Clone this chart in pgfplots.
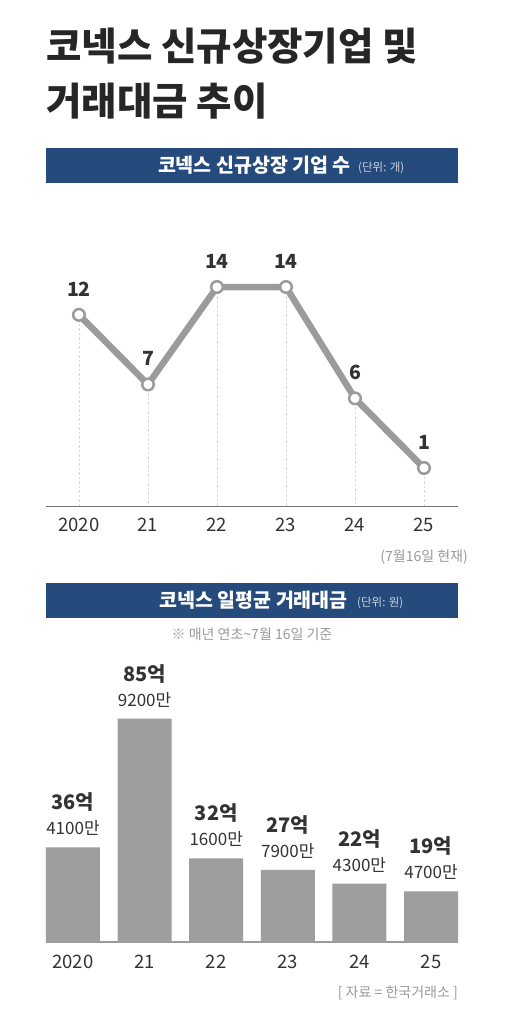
\documentclass[border=0pt]{standalone}
\usepackage{pgfplots}
\pgfplotsset{compat=1.18}
\usepackage{pgfplotstable}
\usepackage{fontspec}
\setmainfont{Noto Sans CJK KR}
\definecolor{navy}{HTML}{254A7C}
\definecolor{barg}{HTML}{9E9E9E}
\definecolor{lineg}{HTML}{9B9B9B}
\definecolor{txt}{HTML}{333333}
\definecolor{note}{HTML}{9A9A9A}
\definecolor{unit}{HTML}{C9D2E0}

\pgfplotstableread{
x y
0 12
1 7
2 14
3 14
4 6
5 1
}\linedata

\pgfplotstableread{
x y man eok
0 36.41 4100만 36억
1 85.92 9200만 85억
2 32.16 1600만 32억
3 27.79 7900만 27억
4 22.43 4300만 22억
5 19.47 4700만 19억
}\bardata

\begin{document}
\begin{tikzpicture}[x=1pt,y=1pt]
\path[use as bounding box, fill=white] (0,0) rectangle (510,-1014);

% Title
\node[anchor=west, inner sep=0pt, text=black!85, font=\fontsize{38.5}{40}\selectfont\bfseries] at (46,-46) {코넥스 신규상장기업 및};
\node[anchor=west, inner sep=0pt, text=black!85, font=\fontsize{38.5}{40}\selectfont\bfseries] at (46,-101) {거래대금 추이};

% Header 1
\fill[navy] (46,-148) rectangle (458,-183);
\node[anchor=base east, inner sep=0pt, text=white, font=\fontsize{19.5}{20}\selectfont\bfseries] at (351,-172) {코넥스 신규상장 기업 수};
\node[anchor=base west, inner sep=0pt, text=unit, font=\fontsize{11.5}{12}\selectfont] at (358,-171) {(단위: 개)};

% Line chart
\begin{axis}[
  at={(46pt,-506pt)}, anchor=south west,
  scale only axis, width=412pt, height=306pt,
  xmin=-0.478, xmax=5.493, ymin=-1.73, ymax=20.25,
  axis x line=bottom, axis y line=none,
  x axis line style={-, draw=black!55, line width=0.9pt},
  xtick={0,...,5}, xticklabels={2020,21,22,23,24,25},
  major tick length=0pt,
  xticklabel style={text=txt, font=\fontsize{18.5}{20}\selectfont, yshift=-9pt},
  ytick=\empty,
  /pgf/number format/assume math mode=true,
  clip=true,
]
\addplot[draw=none, mark=none, forget plot,
  error bars/.cd, y dir=minus, y fixed=40, error mark=none,
  error bar style={draw=black!15, line width=0.7pt, dash pattern=on 2.5pt off 2pt}]
  table[x=x,y=y] {\linedata};
\addplot[color=lineg, line width=6.5pt, line join=round,
  mark=*, mark size=5.8pt,
  mark options={fill=white, draw=lineg, line width=2.5pt, solid},
  nodes near coords,
  every node near coord/.style={anchor=center, yshift=26pt, text=txt, font=\fontsize{19.5}{20}\selectfont\bfseries},
  point meta=explicit]
  table[x=x,y=y,meta=y] {\linedata};
\end{axis}

\node[anchor=base east, inner sep=0pt, text=note, font=\fontsize{14}{15}\selectfont] at (468,-561) {(7월16일 현재)};

% Header 2
\fill[navy] (46,-583) rectangle (458,-618);
\node[anchor=base east, inner sep=0pt, text=white, font=\fontsize{19.5}{20}\selectfont\bfseries] at (348,-607) {코넥스 일평균 거래대금};
\node[anchor=base west, inner sep=0pt, text=unit, font=\fontsize{11.5}{12}\selectfont] at (357,-606) {(단위: 원)};

\node[anchor=center, inner sep=0pt, text=note, font=\fontsize{14}{15}\selectfont] at (252,-634) {※ 매년 연초\textasciitilde 7월 16일 기준};

% Bar chart
\begin{axis}[
  at={(46pt,-942pt)}, anchor=south west,
  scale only axis, width=412pt, height=302pt,
  xmin=-0.377, xmax=5.377, ymin=0, ymax=116.2,
  ybar, bar width=54pt, bar shift=0pt,
  axis x line=bottom, axis y line=none,
  x axis line style={-, draw=black!40, line width=1.5pt},
  xtick={0,...,5}, xticklabels={2020,21,22,23,24,25},
  major tick length=0pt,
  xticklabel style={text=txt, font=\fontsize{18.5}{20}\selectfont, yshift=-10pt},
  ytick=\empty,
  clip=false,
]
\addplot[fill=barg, draw=none,
  nodes near coords,
  every node near coord/.style={anchor=center, yshift=19pt, text=txt, font=\fontsize{17}{18}\selectfont},
  point meta=explicit symbolic]
  table[x=x,y=y,meta=man] {\bardata};
\addplot[fill=none, draw=none,
  nodes near coords,
  every node near coord/.style={anchor=center, yshift=45pt, text=txt, font=\fontsize{20}{22}\selectfont\bfseries},
  point meta=explicit symbolic]
  table[x=x,y=y,meta=eok] {\bardata};
\end{axis}

\node[anchor=base east, inner sep=0pt, text=note, font=\fontsize{14}{15}\selectfont] at (458,-997) {[ 자료 = 한국거래소 ]};
\end{tikzpicture}
\end{document}
